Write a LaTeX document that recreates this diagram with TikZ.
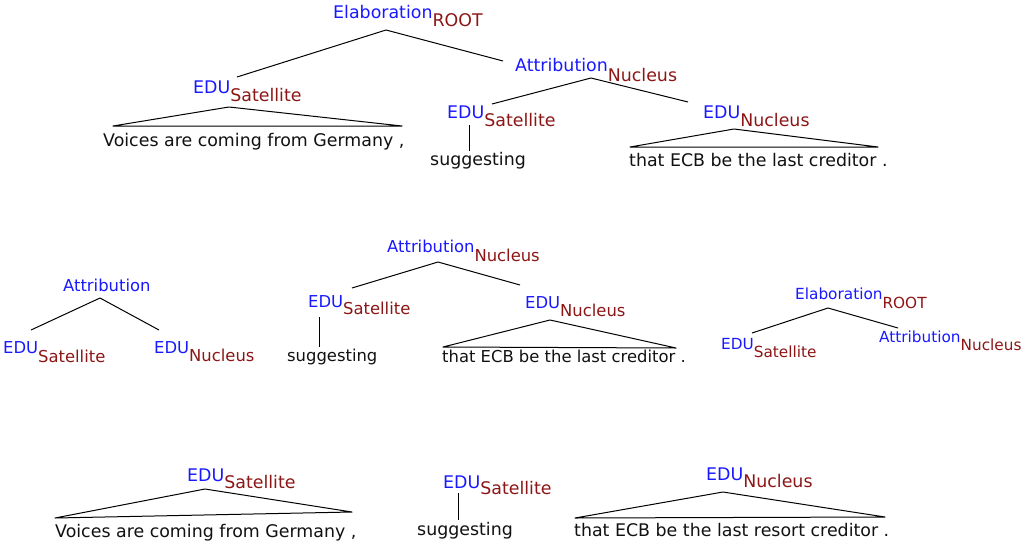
\documentclass[tikz,border=0pt]{standalone}
\usepackage{fontspec}
\setmainfont{DejaVu Sans}
\definecolor{relblue}{RGB}{25,25,255}
\definecolor{nucred}{RGB}{140,22,22}
\definecolor{wordgray}{RGB}{17,17,17}
\newcommand{\rlab}[3][8]{{\color{relblue}#2}\raisebox{-#1pt}{\color{nucred}#3}}

\begin{document}
\begin{tikzpicture}[x=1pt, y=-1pt,
  lab/.style={anchor=base west, inner sep=0pt, text=wordgray},
  big/.style={font=\fontsize{17.4}{20}\selectfont},
  mid/.style={font=\fontsize{16.4}{19}\selectfont},
  small/.style={font=\fontsize{15.3}{18}\selectfont},
  branch/.style={line width=1pt, line join=round}]

  \useasboundingbox (0,0) rectangle (1032,546);

  % Top tree: the whole sentence
  \node[lab, big] (elab) at (333,18) {\rlab[9]{Elaboration}{ROOT}};
  \coordinate (elabtop) at (386,30);
  \coordinate (elabl) at (237,77);
  \coordinate (elabr) at (503,61);
  \draw[branch] (elabl) -- (elabtop) -- (elabr);

  \node[lab, big] (satA) at (193,93) {\rlab{EDU}{Satellite}};
  \coordinate (roofA) at (229,107);
  \coordinate (roofAl) at (113,126);
  \coordinate (roofAr) at (402,126);
  \draw[branch] (roofA) -- (roofAl) -- (roofAr) -- cycle;
  \node[lab, big] (voicesA) at (103,146) {Voices are coming from Germany ,};

  \node[lab, big] (attrA) at (515,71) {\rlab[10]{Attribution}{Nucleus}};
  \coordinate (attrAtop) at (591,78);
  \coordinate (attrAl) at (492,104);
  \coordinate (attrAr) at (688,102);
  \draw[branch] (attrAl) -- (attrAtop) -- (attrAr);

  \node[lab, big] (satB) at (447,118) {\rlab{EDU}{Satellite}};
  \coordinate (stemBt) at (469,125);
  \coordinate (stemBb) at (469,151);
  \draw[branch] (stemBt) -- (stemBb);
  \node[lab, big] (suggA) at (430,165) {suggesting};

  \node[lab, big] (nucA) at (703,118) {\rlab{EDU}{Nucleus}};
  \coordinate (roofB) at (734,129);
  \coordinate (roofBl) at (630,147);
  \coordinate (roofBr) at (878,147);
  \draw[branch] (roofB) -- (roofBl) -- (roofBr) -- cycle;
  \node[lab, big] (thatA) at (629,166) {that ECB be the last creditor .};

  % Middle row, left: bare attribution
  \node[lab, mid] (attrB) at (63,291) {\color{relblue}Attribution};
  \coordinate (attrBtop) at (100,298);
  \coordinate (attrBl) at (31,330);
  \coordinate (attrBr) at (159,330);
  \draw[branch] (attrBl) -- (attrBtop) -- (attrBr);
  \node[lab, mid] (satC) at (3,353) {\rlab[9]{EDU}{Satellite}};
  \node[lab, mid] (nucB) at (154,353) {\rlab{EDU}{Nucleus}};

  % Middle row, centre: attribution subtree
  \node[lab, mid] (attrC) at (387,252) {\rlab[9]{Attribution}{Nucleus}};
  \coordinate (attrCtop) at (438,262);
  \coordinate (attrCl) at (352,288);
  \coordinate (attrCr) at (520,285);
  \draw[branch] (attrCl) -- (attrCtop) -- (attrCr);

  \node[lab, mid] (satD) at (308,307) {\rlab[7]{EDU}{Satellite}};
  \coordinate (stemDt) at (319,317);
  \coordinate (stemDb) at (319,347);
  \draw[branch] (stemDt) -- (stemDb);
  \node[lab, mid] (suggB) at (287,361) {suggesting};

  \node[lab, mid] (nucC) at (525,308) {\rlab{EDU}{Nucleus}};
  \coordinate (roofC) at (550,320);
  \coordinate (roofCl) at (443,347);
  \coordinate (roofCr) at (676,348);
  \draw[branch] (roofC) -- (roofCl) -- (roofCr) -- cycle;
  \node[lab, mid] (thatB) at (442,362) {that ECB be the last creditor .};

  % Middle row, right: elaboration over the attribution
  \node[lab, small] (elabB) at (795,299) {\rlab[9]{Elaboration}{ROOT}};
  \coordinate (elabBtop) at (828,308);
  \coordinate (elabBl) at (752,333);
  \coordinate (elabBr) at (898,328);
  \draw[branch] (elabBl) -- (elabBtop) -- (elabBr);
  \node[lab, small] (satE) at (721,349) {\rlab{EDU}{Satellite}};
  \node[lab, small] (attrD) at (879,342) {\rlab{Attribution}{Nucleus}};

  % Bottom row: the three EDUs
  \node[lab, big] (satF) at (187,481) {\rlab[7]{EDU}{Satellite}};
  \coordinate (roofD) at (205,489);
  \coordinate (roofDl) at (55,518);
  \coordinate (roofDr) at (352,512);
  \draw[branch] (roofD) -- (roofDl) -- (roofDr) -- cycle;
  \node[lab, big] (voicesB) at (55,537) {Voices are coming from Germany ,};

  \node[lab, big] (satG) at (443,488) {\rlab[6]{EDU}{Satellite}};
  \coordinate (stemGt) at (458,493);
  \coordinate (stemGb) at (458,520);
  \draw[branch] (stemGt) -- (stemGb);
  \node[lab, big] (suggC) at (417,535) {suggesting};

  \node[lab, big] (nucD) at (706,480) {\rlab[7]{EDU}{Nucleus}};
  \coordinate (roofE) at (723,492);
  \coordinate (roofEl) at (575,518);
  \coordinate (roofEr) at (885,517);
  \draw[branch] (roofE) -- (roofEl) -- (roofEr) -- cycle;
  \node[lab, big] (resort) at (574,536) {that ECB be the last resort creditor .};

\end{tikzpicture}
\end{document}
